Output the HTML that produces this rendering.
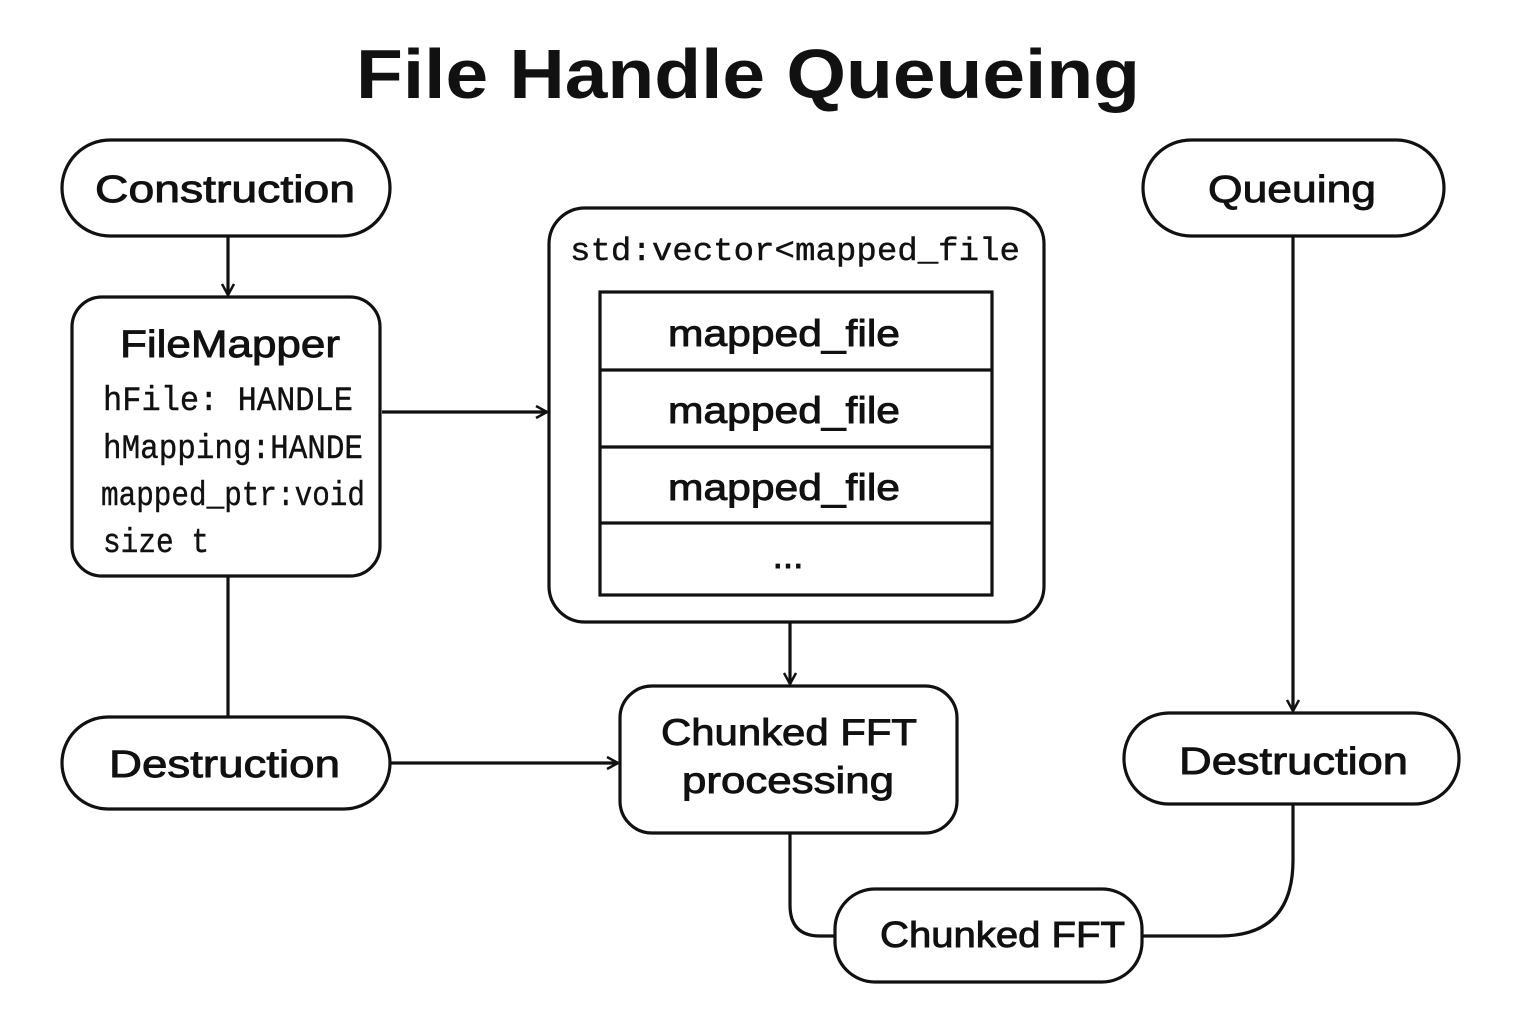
<!DOCTYPE html>
<html><head><meta charset="utf-8"><style>
html,body{margin:0;padding:0;background:#fff;}
svg{display:block;}
text{font-family:"Liberation Sans","DejaVu Sans",sans-serif;fill:#111;}
.l{stroke:#111;stroke-width:0.9;}
.m{font-family:"Liberation Mono","DejaVu Sans Mono",monospace;stroke:#111;stroke-width:0.4;}
</style></head><body>
<svg width="1536" height="1024" viewBox="0 0 1536 1024" xmlns="http://www.w3.org/2000/svg">
<defs><marker id="a" markerWidth="14" markerHeight="14" refX="12" refY="7" orient="auto" markerUnits="userSpaceOnUse"><path d="M1,1 L12,7 L1,13" fill="none" stroke="#111" stroke-width="2.5"/></marker></defs>
<text x="356" y="98" font-size="70" font-weight="bold" textLength="784" lengthAdjust="spacingAndGlyphs">File Handle Queueing</text>
<g fill="none" stroke="#111" stroke-width="3.2">
<rect x="62" y="140" width="328" height="96" rx="48"/>
<rect x="72" y="297" width="308" height="279" rx="30"/>
<rect x="62" y="717" width="328" height="92" rx="46"/>
<rect x="549" y="208" width="495" height="414" rx="36"/>
<rect x="600" y="292" width="392" height="303"/>
<line x1="600" y1="370" x2="992" y2="370"/>
<line x1="600" y1="447" x2="992" y2="447"/>
<line x1="600" y1="523" x2="992" y2="523"/>
<rect x="620" y="686" width="337" height="147" rx="32"/>
<rect x="1143" y="140" width="301" height="96" rx="48"/>
<rect x="1124" y="713" width="335" height="91" rx="45"/>
<rect x="835" y="889" width="307" height="93" rx="40"/>
<line x1="228" y1="236" x2="228" y2="295" marker-end="url(#a)"/>
<line x1="228" y1="576" x2="228" y2="717"/>
<line x1="390" y1="763" x2="618" y2="763" marker-end="url(#a)"/>
<line x1="382" y1="412" x2="547" y2="412" marker-end="url(#a)"/>
<line x1="790" y1="622" x2="790" y2="684" marker-end="url(#a)"/>
<line x1="1293" y1="236" x2="1293" y2="711" marker-end="url(#a)"/>
<path d="M790,833 L790,905 Q790,936 820,936 L835,936"/>
<path d="M1142,936 L1220,936 Q1293,936 1293,860 L1293,804"/>
</g>
<text class="l" x="95" y="202" font-size="38" textLength="260" lengthAdjust="spacingAndGlyphs">Construction</text>
<text class="l" x="1208" y="202" font-size="38" textLength="168" lengthAdjust="spacingAndGlyphs">Queuing</text>
<text class="l" x="109" y="777" font-size="38" textLength="231" lengthAdjust="spacingAndGlyphs">Destruction</text>
<text class="l" x="1179" y="774" font-size="38" textLength="229" lengthAdjust="spacingAndGlyphs">Destruction</text>
<text class="l" x="880" y="947" font-size="36" textLength="245" lengthAdjust="spacingAndGlyphs">Chunked FFT</text>
<text class="l" x="661" y="745" font-size="37" textLength="256" lengthAdjust="spacingAndGlyphs">Chunked FFT</text>
<text class="l" x="682" y="793" font-size="37" textLength="212" lengthAdjust="spacingAndGlyphs">processing</text>
<text class="l" x="120" y="357" font-size="38" textLength="220" lengthAdjust="spacingAndGlyphs">FileMapper</text>
<text class="m" x="103" y="410" font-size="34" textLength="250" lengthAdjust="spacingAndGlyphs">hFile: HANDLE</text>
<text class="m" x="103" y="458" font-size="34" textLength="260" lengthAdjust="spacingAndGlyphs">hMapping:HANDE</text>
<text class="m" x="101" y="505" font-size="34" textLength="264" lengthAdjust="spacingAndGlyphs">mapped_ptr:void</text>
<text class="m" x="103" y="552" font-size="34" textLength="106" lengthAdjust="spacingAndGlyphs">size t</text>
<text class="m" x="570" y="260" font-size="32" textLength="450" lengthAdjust="spacingAndGlyphs">std:vector&lt;mapped_file</text>
<text class="l" x="668" y="346" font-size="37" textLength="232" lengthAdjust="spacingAndGlyphs">mapped_file</text>
<text class="l" x="668" y="423" font-size="37" textLength="232" lengthAdjust="spacingAndGlyphs">mapped_file</text>
<text class="l" x="668" y="500" font-size="37" textLength="232" lengthAdjust="spacingAndGlyphs">mapped_file</text>
<text class="l" x="788" y="568" text-anchor="middle" font-size="37">...</text>
</svg>
</body></html>
